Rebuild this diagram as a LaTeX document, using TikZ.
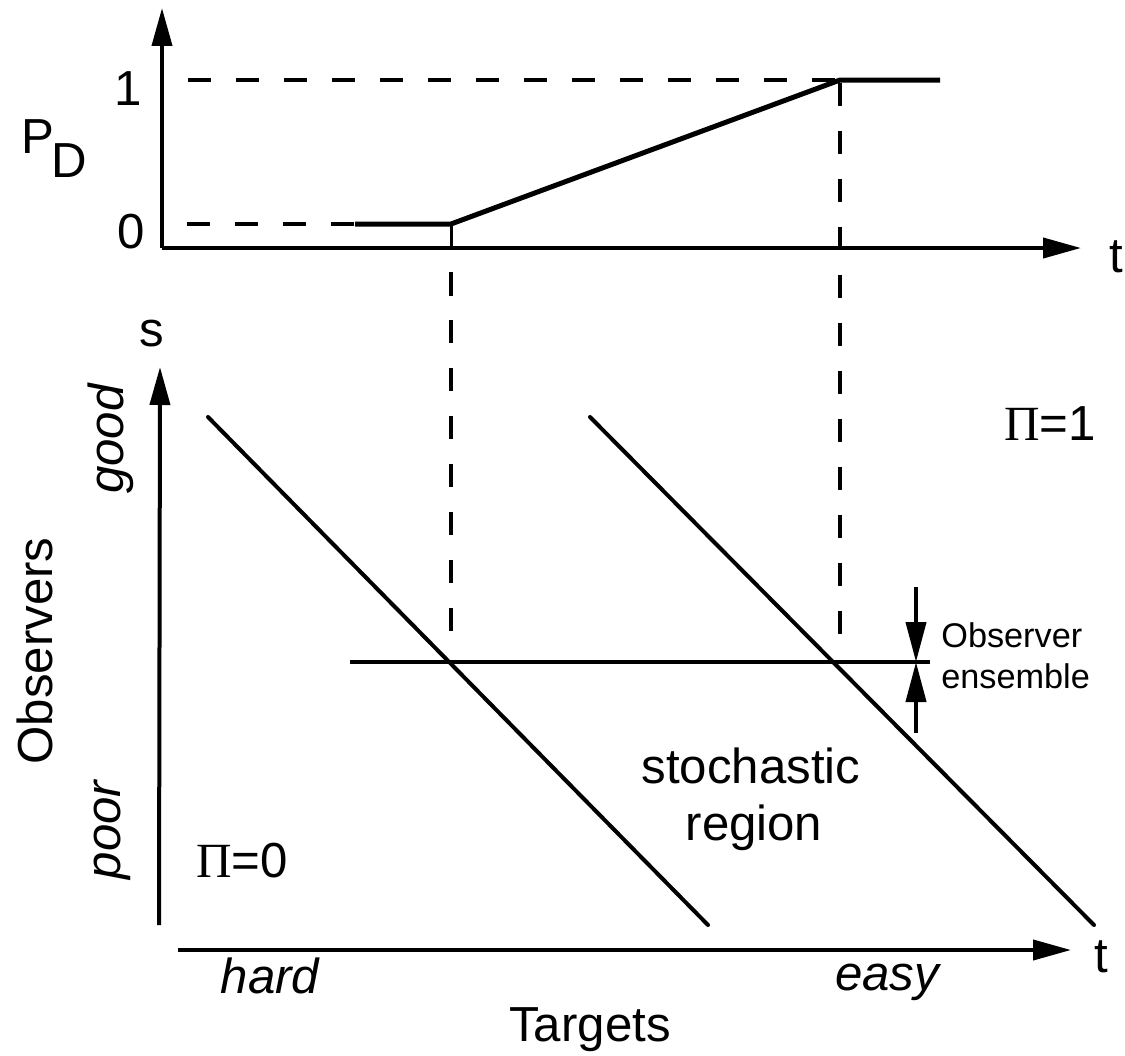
\documentclass[tikz,border=0pt]{standalone}
\usepackage{fontspec}
\setmainfont{Liberation Sans}
\newfontfamily\pifont{Liberation Serif}
\usetikzlibrary{arrows.meta}
\tikzset{
  axisline/.style={line width=0.08cm, -{Triangle[length=0.76cm,width=0.4cm]}},
  plotline/.style={line width=0.1cm},
  limitline/.style={line width=0.08cm, line cap=round},
  guideline/.style={line width=0.08cm, dash pattern=on 0.47cm off 0.49cm},
  ensarrow/.style={line width=0.08cm, -{Triangle[length=0.8cm,width=0.4cm]}},
  smalltext/.style={font=\fontsize{19.5}{23}\selectfont},
}
\begin{document}
\begin{tikzpicture}[x=0.02cm, y=-0.02cm, inner sep=0pt]
            \useasboundingbox (0,0) rectangle (1125,1055);
            {\fontsize{28}{34}\selectfont

            % Points of the upper plot
            \coordinate (topOrigin) at (162,248);
            \coordinate (topYEnd) at (162,8);
            \coordinate (topXEnd) at (1081,248);
            \coordinate (lowStart) at (187,224);
            \coordinate (lowSolid) at (355,224);
            \coordinate (rampLow) at (451,224);
            \coordinate (rampLowFoot) at (451,248);
            \coordinate (highStart) at (188,80);
            \coordinate (rampHigh) at (840,80);
            \coordinate (highEnd) at (940,80);

            % Points of the lower plot
            \coordinate (botOrigin) at (159,925);
            \coordinate (botYEnd) at (160,367);
            \coordinate (botXStart) at (178,950);
            \coordinate (botXEnd) at (1071,950);
            \coordinate (hardTop) at (208,417);
            \coordinate (hardEnd) at (708,925);
            \coordinate (easyTop) at (590,417);
            \coordinate (easyEnd) at (1094,925);
            \coordinate (ensStart) at (350,662);
            \coordinate (ensEnd) at (930,662);
            \coordinate (ensHigh) at (916,587);
            \coordinate (ensLow) at (916,733);
            \coordinate (ensMid) at (916,662);
            \coordinate (dropLow) at (451,272);
            \coordinate (dropLowEnd) at (451,635);
            \coordinate (dropHigh) at (840,83);
            \coordinate (dropHighEnd) at (840,635);

            % Drawing axes P_D and t
            \draw [axisline] (topOrigin) -- (topYEnd);%
            \draw [axisline] (topOrigin) -- (topXEnd);%

            % Drawing line P_D = 0
            \draw [guideline] (lowStart) -- (lowSolid);%
            \draw [plotline] (lowSolid) -- (rampLow) -- (rampHigh) -- (highEnd);%
            \draw [line width=0.06cm] (rampLow) -- (rampLowFoot);%

            % Drawing line P_D = 1
            \draw [guideline] (highStart) -- (rampHigh);%

            % Drawing drop lines
            \draw [guideline] (dropLow) -- (dropLowEnd);%
            \draw [guideline] (dropHigh) -- (dropHighEnd);%

            % Drawing axes s and t
            \draw [axisline] (botOrigin) -- (botYEnd);%
            \draw [axisline] (botXStart) -- (botXEnd);%

            % Drawing limit lines
            \draw [limitline] (hardTop) -- (hardEnd);%
            \draw [limitline] (easyTop) -- (easyEnd);%

            % Drawing observer ensemble
            \draw [line width=0.07cm] (ensStart) -- (ensEnd);%
            \draw [ensarrow] (ensHigh) -- (ensMid);%
            \draw [ensarrow] (ensLow) -- (ensMid);%

            % Marking upper plot
            \draw (21,153) node (pdLabel) [anchor=base west] {P\kern-0.06em\raisebox{-0.5em}{D}};%
            \draw (128,105) node (oneLabel) [anchor=base] {1};%
            \draw (131,248) node (zeroLabel) [anchor=base] {0};%
            \draw (1116,272) node (tTopLabel) [anchor=base] {t};%

            % Marking lower plot
            \draw (152,346) node (sLabel) [anchor=base] {s};%
            \draw (123,439) node (goodLabel) [anchor=base, rotate=90] {\itshape good};%
            \draw (120,830) node (poorLabel) [anchor=base, rotate=90] {\itshape poor};%
            \draw (52,651) node (obsLabel) [anchor=base, rotate=90] {Observers};%
            \draw (270,993) node (hardLabel) [anchor=base] {\itshape hard};%
            \draw (887,990) node (easyLabel) [anchor=base] {\itshape easy};%
            \draw (590,1041) node (targetsLabel) [anchor=base] {Targets};%
            \draw (1101,972) node (tBotLabel) [anchor=base] {t};%
            \draw (1050,440) node (piOneLabel) [anchor=base] {{\pifont Π}=1};%
            \draw (242,877) node (piZeroLabel) [anchor=base] {{\pifont Π}=0};%
            \draw (751,783) node (stochLabel) [anchor=base] {stochastic};%
            \draw (754,840) node (regionLabel) [anchor=base] {region};%
            \draw (941,647) node (ensTopLabel) [anchor=base west, smalltext] {Observer};%
            \draw (941,688) node (ensBotLabel) [anchor=base west, smalltext] {ensemble};%
            }
        \end{tikzpicture}
\end{document}
